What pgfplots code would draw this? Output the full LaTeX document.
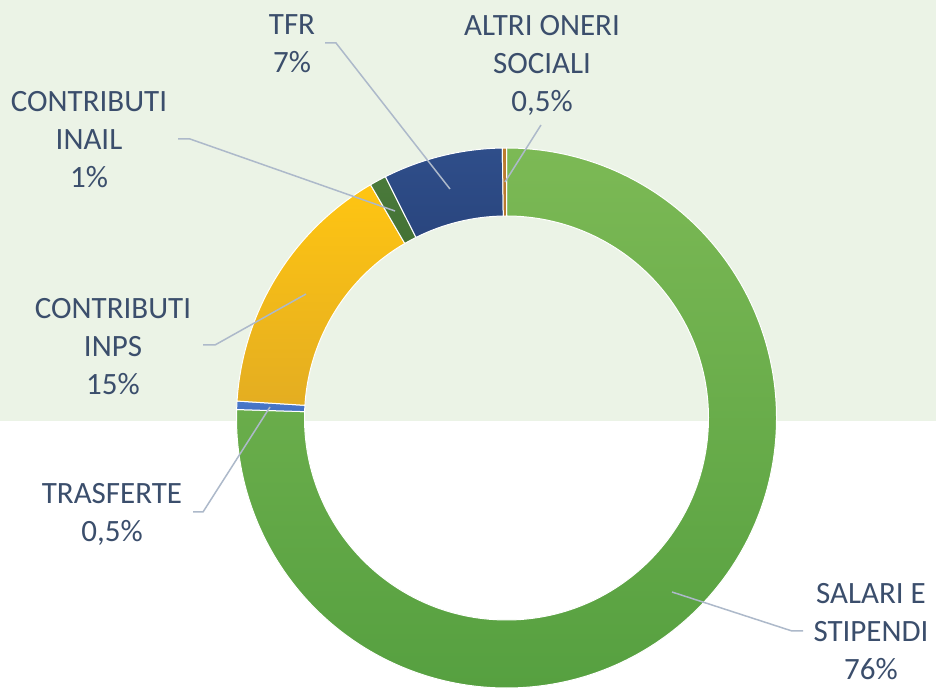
\documentclass[border=0pt]{standalone}
\usepackage{pgfplots}
\pgfplotsset{compat=1.18}
\usepackage{fontspec}
\setmainfont{Carlito}
\definecolor{bgg}{HTML}{EBF3E6}
\definecolor{txt}{HTML}{3B4E6C}
\definecolor{lead}{HTML}{ADB9CA}
\definecolor{gTop}{HTML}{7CB955}
\definecolor{gBot}{HTML}{56A040}
\definecolor{bTop}{HTML}{4A78CA}
\definecolor{bBot}{HTML}{3F6BBB}
\definecolor{yTop}{HTML}{FFC512}
\definecolor{yBot}{HTML}{E2AC22}
\definecolor{dTop}{HTML}{4A7A3B}
\definecolor{dBot}{HTML}{335C24}
\definecolor{nTop}{HTML}{2F4E8A}
\definecolor{nBot}{HTML}{1E3466}
\definecolor{oTop}{HTML}{BC7C30}
\definecolor{oBot}{HTML}{B0722A}
% slice: value (percent), top colour, bottom colour; cumulative start kept in \cum
\def\cum{0}
\newcommand\slice[3]{%
  \pgfmathsetmacro\aA{90-3.6*\cum}%
  \pgfmathsetmacro\aB{90-3.6*(\cum+#1)}%
  \pgfmathsetmacro\newcum{\cum+#1}%
  \xdef\cum{\newcum}%
  \shadedraw[top color=#2,bottom color=#3,draw=white,line width=1pt,line join=round]
    (axis cs:506.5,272) ++(\aA:270pt) arc[start angle=\aA,end angle=\aB,radius=270pt]
    -- ++(\aB:-68pt) arc[start angle=\aB,end angle=\aA,radius=202pt] -- cycle;}
\begin{document}
\begin{tikzpicture}
\begin{axis}[
  scale only axis, width=936pt, height=690pt,
  xmin=0, xmax=936, ymin=0, ymax=690,
  hide axis, clip=false,
]
\pgfplotsextra{%
  \fill[white] (axis cs:0,0) rectangle (axis cs:936,690);
  \fill[bgg] (axis cs:0,269) rectangle (axis cs:936,690);
}
% values in percent, clockwise from the top
\pgfplotsextra{\slice{75.5}{gTop}{gBot}}   % SALARI E STIPENDI
\pgfplotsextra{\slice{0.5}{bTop}{bBot}}    % TRASFERTE
\pgfplotsextra{\slice{15.6}{yTop}{yBot}}   % CONTRIBUTI INPS
\pgfplotsextra{\slice{1.0}{dTop}{dBot}}    % CONTRIBUTI INAIL
\pgfplotsextra{\slice{7.15}{nTop}{nBot}}   % TFR
\pgfplotsextra{\slice{0.25}{oTop}{oBot}}   % ALTRI ONERI SOCIALI
% leader lines
\addplot[lead, line width=1.5pt, no markers] coordinates {(325,647) (336,647) (450,501)};
\addplot[lead, line width=1.5pt, no markers] coordinates {(178,551) (190,551) (395,479)};
\addplot[lead, line width=1.5pt, no markers] coordinates {(541,565) (505,508)};
\addplot[lead, line width=1.5pt, no markers] coordinates {(203,345) (215,345) (306,396)};
\addplot[lead, line width=1.5pt, no markers] coordinates {(193,178) (203,178) (270,283)};
\addplot[lead, line width=1.5pt, no markers] coordinates {(803,59) (792,59) (672,98)};
% labels
\pgfplotsextra{%
\begingroup
\tikzset{every node/.style={text=txt, align=center, inner sep=0pt, anchor=center,
  font=\fontsize{31}{38}\selectfont}}
\node at (axis cs:292,646) {TFR\\7\%};
\node at (axis cs:89,550) {CONTRIBUTI\\INAIL\\1\%};
\node at (axis cs:542,625) {ALTRI ONERI\\SOCIALI\\0,5\%};
\node at (axis cs:113,343.5) {CONTRIBUTI\\INPS\\15\%};
\node at (axis cs:112,175.5) {TRASFERTE\\0,5\%};
\node at (axis cs:871,58.5) {SALARI E\\STIPENDI\\76\%};
\endgroup}
\end{axis}
\end{tikzpicture}
\end{document}
